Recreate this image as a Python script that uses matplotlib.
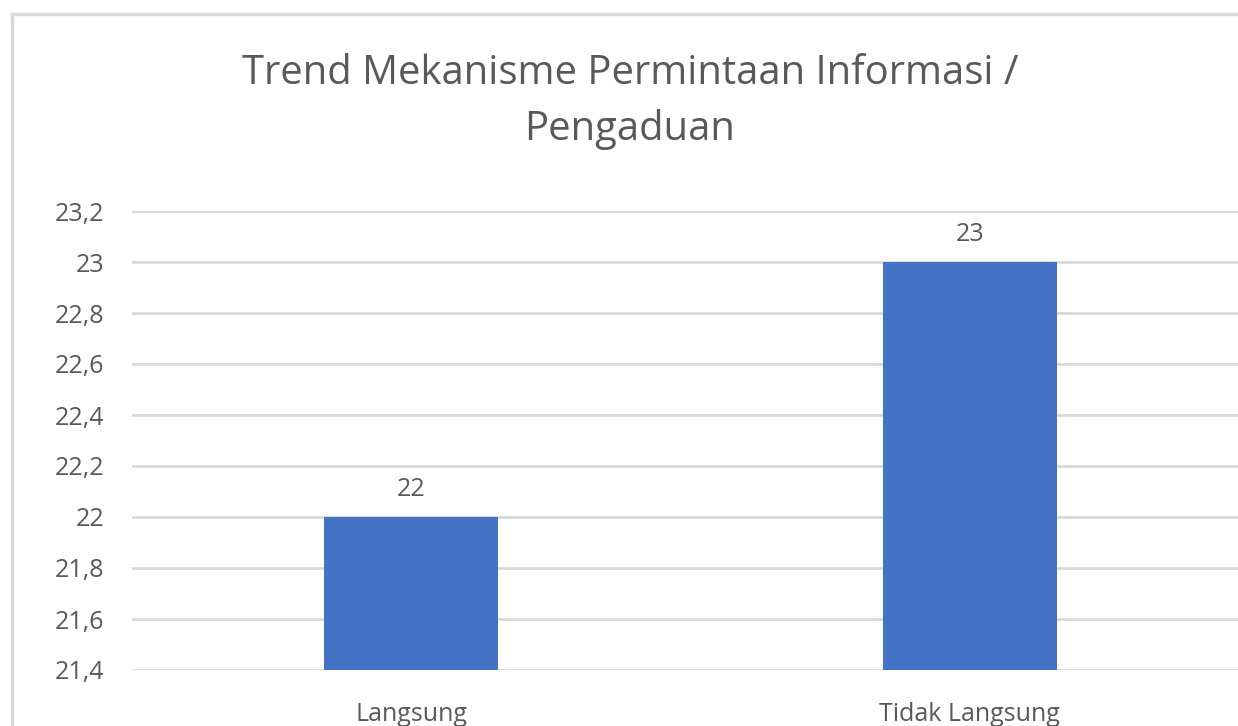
import matplotlib
matplotlib.use("Agg")
import matplotlib.pyplot as plt
from matplotlib.lines import Line2D
import numpy as np

# data
categories = ["Langsung", "Tidak Langsung"]
values = [22, 23]
y_ticks = [21.4, 21.6, 21.8, 22.0, 22.2, 22.4, 22.6, 22.8, 23.0, 23.2]
title = "Trend Mekanisme Permintaan Informasi /\nPengaduan"

plt.rcParams["font.family"] = ["Open Sans", "DejaVu Sans"]
TEXT = "#595959"
GRID = "#d9d9d9"
BAR = "#4472C4"


def fmt(v):
    """Excel-style number with comma decimal separator."""
    return f"{round(v, 1):g}".replace(".", ",")


fig = plt.figure(figsize=(12.38, 7.26), dpi=100)
W, H = 1238, 726

# axes placed in pixel terms, right side runs off the canvas like the screenshot
left, right, bottom, top = 132, 1249, 670, 211
ax = fig.add_axes([left / W, 1 - bottom / H, (right - left) / W, (bottom - top) / H])

x = np.arange(len(categories))
bars = ax.bar(x, values, width=0.312, color=BAR, zorder=3)
ax.set_xlim(-0.5, len(categories) - 0.5)
ax.set_ylim(y_ticks[0], y_ticks[-1])

ax.set_yticks(y_ticks)
ax.set_yticklabels([fmt(v) for v in y_ticks])
ax.set_xticks(x)
ax.set_xticklabels(categories)
ax.tick_params(axis="y", length=0, pad=20, labelsize=18, labelcolor=TEXT)
ax.tick_params(axis="x", length=0, pad=23, labelsize=18, labelcolor=TEXT)

ax.grid(axis="y", color=GRID, linewidth=2, zorder=0)
ax.set_axisbelow(True)
for s in ax.spines.values():
    s.set_visible(False)

for b, v in zip(bars, values):
    ax.annotate(fmt(v), (b.get_x() + b.get_width() / 2, v), xytext=(0, 11),
                textcoords="offset points", ha="center", va="bottom",
                fontsize=18, color=TEXT)

fig.text(630 / W, 1 - 102 / H, title, ha="center", va="center",
         fontsize=28.8, color=TEXT, linespacing=1.48)

# chart area border (cropped at the right and bottom)
fig.add_artist(Line2D([12 / W, 12 / W], [0, 1 - 14 / H], transform=fig.transFigure,
                      color=GRID, linewidth=2.5))
fig.add_artist(Line2D([12 / W, 1], [1 - 14 / H, 1 - 14 / H], transform=fig.transFigure,
                      color=GRID, linewidth=2.5))

fig.savefig("out.png", dpi=100)
